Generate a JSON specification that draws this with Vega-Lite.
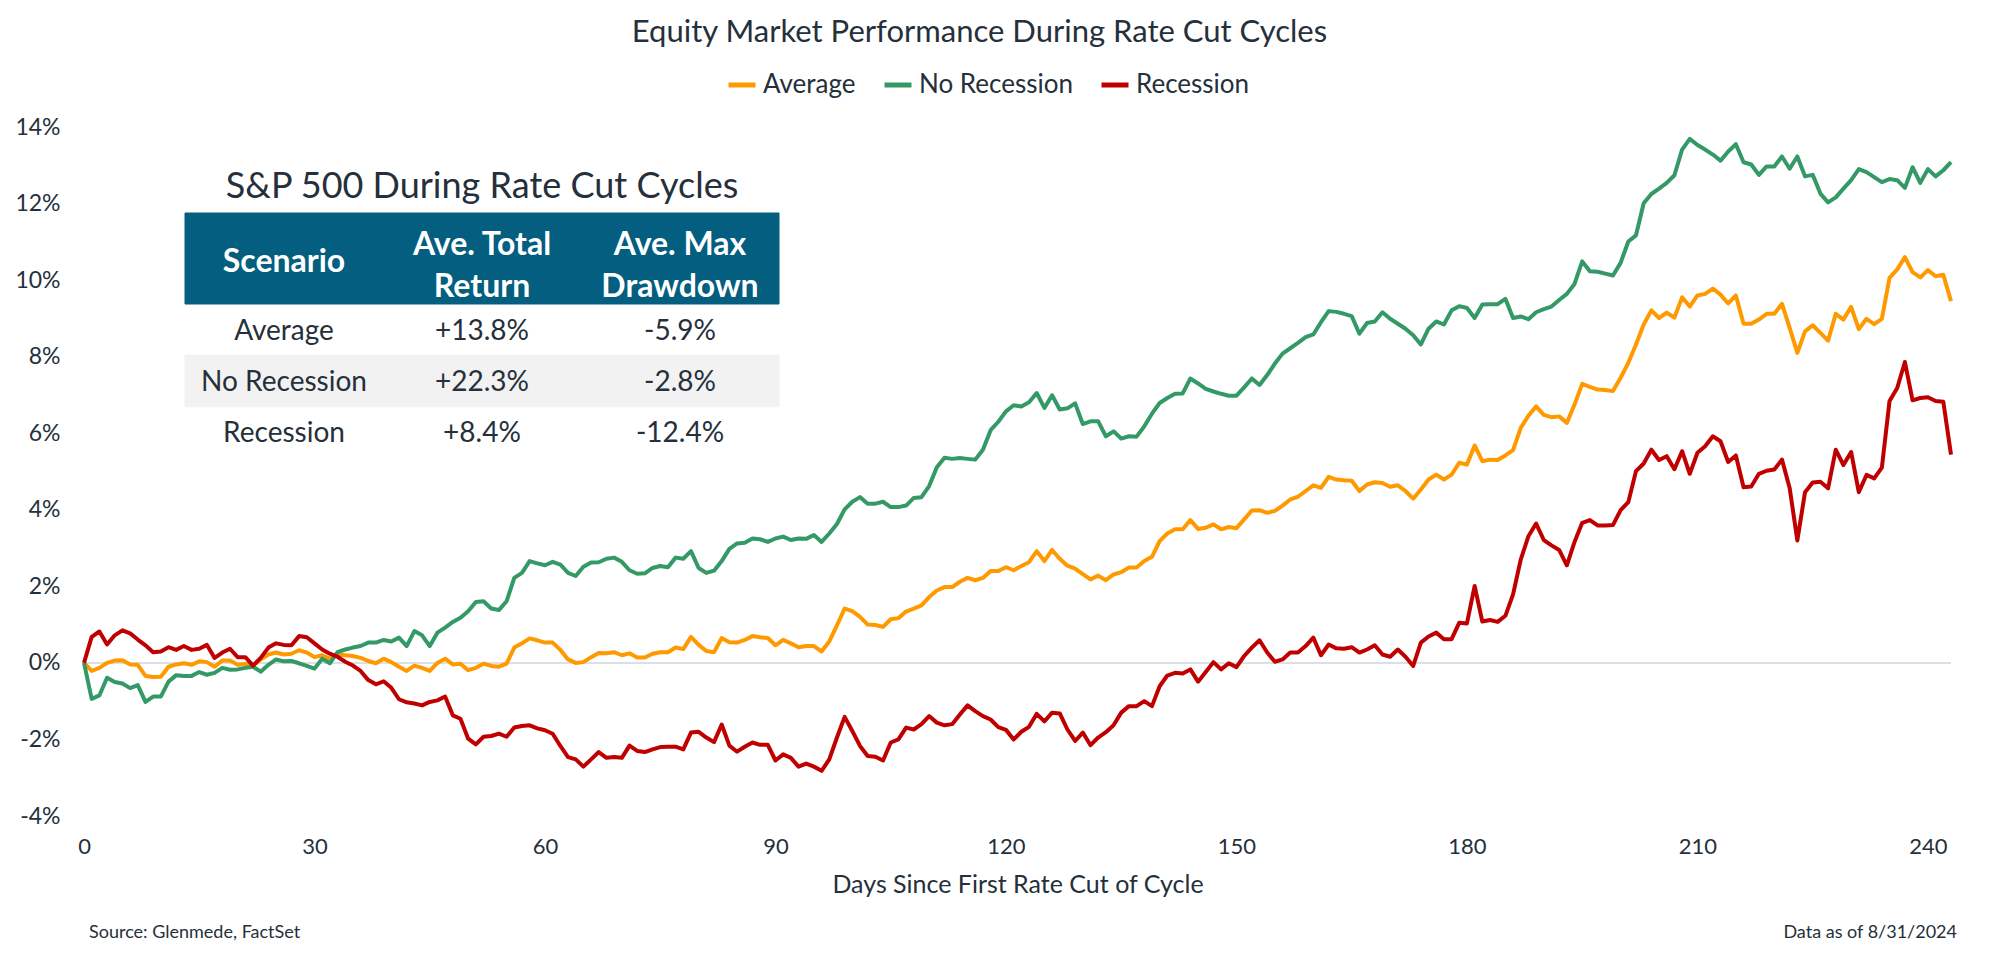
{
  "$schema": "https://vega.github.io/schema/vega-lite/v6.json",
  "width": 1867,
  "height": 689,
  "autosize": {"type": "none"},
  "padding": {"left": 84, "top": 127, "right": 49, "bottom": 142},
  "background": "white",
  "config": {"font": "Lato", "view": {"stroke": null}},
  "title": {"text": "Equity Market Performance During Rate Cut Cycles", "anchor": "middle", "frame": "group", "orient": "top", "offset": 20, "dx": -38, "fontSize": 31, "font": "Lato", "fontWeight": "normal", "color": "#25303b"},
  "datasets": {
    "series": [
      {"day":0,"Average":0,"No Recession":0,"Recession":0},
      {"day":1,"Average":-0.21,"No Recession":-0.94,"Recession":0.68},
      {"day":2,"Average":-0.13,"No Recession":-0.85,"Recession":0.82},
      {"day":3,"Average":0.00,"No Recession":-0.39,"Recession":0.48},
      {"day":4,"Average":0.06,"No Recession":-0.50,"Recession":0.72},
      {"day":5,"Average":0.07,"No Recession":-0.54,"Recession":0.85},
      {"day":6,"Average":-0.04,"No Recession":-0.66,"Recession":0.77},
      {"day":7,"Average":-0.05,"No Recession":-0.58,"Recession":0.61},
      {"day":8,"Average":-0.34,"No Recession":-1.02,"Recession":0.46},
      {"day":9,"Average":-0.37,"No Recession":-0.88,"Recession":0.28},
      {"day":10,"Average":-0.36,"No Recession":-0.88,"Recession":0.30},
      {"day":11,"Average":-0.10,"No Recession":-0.49,"Recession":0.41},
      {"day":12,"Average":-0.04,"No Recession":-0.32,"Recession":0.34},
      {"day":13,"Average":-0.01,"No Recession":-0.34,"Recession":0.44},
      {"day":14,"Average":-0.05,"No Recession":-0.34,"Recession":0.34},
      {"day":15,"Average":0.04,"No Recession":-0.24,"Recession":0.37},
      {"day":16,"Average":0.02,"No Recession":-0.31,"Recession":0.47},
      {"day":17,"Average":-0.10,"No Recession":-0.26,"Recession":0.13},
      {"day":18,"Average":0.06,"No Recession":-0.13,"Recession":0.27},
      {"day":19,"Average":0.06,"No Recession":-0.18,"Recession":0.37},
      {"day":20,"Average":-0.05,"No Recession":-0.17,"Recession":0.15},
      {"day":21,"Average":-0.03,"No Recession":-0.13,"Recession":0.15},
      {"day":22,"Average":-0.07,"No Recession":-0.10,"Recession":-0.07},
      {"day":23,"Average":0.09,"No Recession":-0.23,"Recession":0.13},
      {"day":24,"Average":0.22,"No Recession":-0.05,"Recession":0.40},
      {"day":25,"Average":0.27,"No Recession":0.09,"Recession":0.51},
      {"day":26,"Average":0.22,"No Recession":0.04,"Recession":0.47},
      {"day":27,"Average":0.24,"No Recession":0.05,"Recession":0.46},
      {"day":28,"Average":0.33,"No Recession":-0.01,"Recession":0.70},
      {"day":29,"Average":0.27,"No Recession":-0.08,"Recession":0.67},
      {"day":30,"Average":0.15,"No Recession":-0.15,"Recession":0.51},
      {"day":31,"Average":0.20,"No Recession":0.11,"Recession":0.35},
      {"day":32,"Average":0.11,"No Recession":-0.01,"Recession":0.24},
      {"day":33,"Average":0.22,"No Recession":0.28,"Recession":0.16},
      {"day":34,"Average":0.20,"No Recession":0.35,"Recession":0.03},
      {"day":35,"Average":0.18,"No Recession":0.40,"Recession":-0.07},
      {"day":36,"Average":0.13,"No Recession":0.44,"Recession":-0.21},
      {"day":37,"Average":0.05,"No Recession":0.53,"Recession":-0.45},
      {"day":38,"Average":-0.01,"No Recession":0.53,"Recession":-0.56},
      {"day":39,"Average":0.11,"No Recession":0.60,"Recession":-0.48},
      {"day":40,"Average":0.02,"No Recession":0.56,"Recession":-0.65},
      {"day":41,"Average":-0.10,"No Recession":0.66,"Recession":-0.95},
      {"day":42,"Average":-0.21,"No Recession":0.44,"Recession":-1.03},
      {"day":43,"Average":-0.07,"No Recession":0.83,"Recession":-1.06},
      {"day":44,"Average":-0.13,"No Recession":0.72,"Recession":-1.11},
      {"day":45,"Average":-0.21,"No Recession":0.44,"Recession":-1.02},
      {"day":46,"Average":0.00,"No Recession":0.79,"Recession":-0.98},
      {"day":47,"Average":0.11,"No Recession":0.92,"Recession":-0.88},
      {"day":48,"Average":-0.04,"No Recession":1.07,"Recession":-1.37},
      {"day":49,"Average":-0.02,"No Recession":1.18,"Recession":-1.46},
      {"day":50,"Average":-0.19,"No Recession":1.35,"Recession":-1.98},
      {"day":51,"Average":-0.13,"No Recession":1.59,"Recession":-2.13},
      {"day":52,"Average":-0.02,"No Recession":1.61,"Recession":-1.93},
      {"day":53,"Average":-0.08,"No Recession":1.42,"Recession":-1.91},
      {"day":54,"Average":-0.10,"No Recession":1.38,"Recession":-1.85},
      {"day":55,"Average":-0.02,"No Recession":1.61,"Recession":-1.93},
      {"day":56,"Average":0.40,"No Recession":2.22,"Recession":-1.69},
      {"day":57,"Average":0.51,"No Recession":2.35,"Recession":-1.65},
      {"day":58,"Average":0.64,"No Recession":2.66,"Recession":-1.63},
      {"day":59,"Average":0.59,"No Recession":2.60,"Recession":-1.71},
      {"day":60,"Average":0.53,"No Recession":2.55,"Recession":-1.76},
      {"day":61,"Average":0.53,"No Recession":2.64,"Recession":-1.85},
      {"day":62,"Average":0.34,"No Recession":2.57,"Recession":-2.17},
      {"day":63,"Average":0.09,"No Recession":2.35,"Recession":-2.46},
      {"day":64,"Average":0.00,"No Recession":2.27,"Recession":-2.52},
      {"day":65,"Average":0.02,"No Recession":2.51,"Recession":-2.71},
      {"day":66,"Average":0.15,"No Recession":2.62,"Recession":-2.52},
      {"day":67,"Average":0.26,"No Recession":2.63,"Recession":-2.33},
      {"day":68,"Average":0.25,"No Recession":2.72,"Recession":-2.48},
      {"day":69,"Average":0.28,"No Recession":2.75,"Recession":-2.46},
      {"day":70,"Average":0.20,"No Recession":2.64,"Recession":-2.48},
      {"day":71,"Average":0.25,"No Recession":2.42,"Recession":-2.16},
      {"day":72,"Average":0.14,"No Recession":2.33,"Recession":-2.30},
      {"day":73,"Average":0.14,"No Recession":2.34,"Recession":-2.33},
      {"day":74,"Average":0.24,"No Recession":2.48,"Recession":-2.26},
      {"day":75,"Average":0.28,"No Recession":2.53,"Recession":-2.20},
      {"day":76,"Average":0.28,"No Recession":2.50,"Recession":-2.19},
      {"day":77,"Average":0.40,"No Recession":2.75,"Recession":-2.19},
      {"day":78,"Average":0.36,"No Recession":2.72,"Recession":-2.26},
      {"day":79,"Average":0.68,"No Recession":2.92,"Recession":-1.82},
      {"day":80,"Average":0.47,"No Recession":2.48,"Recession":-1.80},
      {"day":81,"Average":0.31,"No Recession":2.35,"Recession":-1.95},
      {"day":82,"Average":0.28,"No Recession":2.41,"Recession":-2.07},
      {"day":83,"Average":0.65,"No Recession":2.66,"Recession":-1.61},
      {"day":84,"Average":0.54,"No Recession":2.98,"Recession":-2.16},
      {"day":85,"Average":0.53,"No Recession":3.12,"Recession":-2.32},
      {"day":86,"Average":0.60,"No Recession":3.14,"Recession":-2.19},
      {"day":87,"Average":0.70,"No Recession":3.25,"Recession":-2.08},
      {"day":88,"Average":0.67,"No Recession":3.23,"Recession":-2.14},
      {"day":89,"Average":0.65,"No Recession":3.16,"Recession":-2.14},
      {"day":90,"Average":0.46,"No Recession":3.25,"Recession":-2.55},
      {"day":91,"Average":0.60,"No Recession":3.30,"Recession":-2.39},
      {"day":92,"Average":0.51,"No Recession":3.21,"Recession":-2.48},
      {"day":93,"Average":0.41,"No Recession":3.25,"Recession":-2.71},
      {"day":94,"Average":0.44,"No Recession":3.24,"Recession":-2.63},
      {"day":95,"Average":0.44,"No Recession":3.34,"Recession":-2.71},
      {"day":96,"Average":0.30,"No Recession":3.16,"Recession":-2.82},
      {"day":97,"Average":0.56,"No Recession":3.38,"Recession":-2.52},
      {"day":98,"Average":0.98,"No Recession":3.63,"Recession":-1.95},
      {"day":99,"Average":1.42,"No Recession":4.01,"Recession":-1.41},
      {"day":100,"Average":1.35,"No Recession":4.21,"Recession":-1.78},
      {"day":101,"Average":1.20,"No Recession":4.33,"Recession":-2.17},
      {"day":102,"Average":1.00,"No Recession":4.16,"Recession":-2.43},
      {"day":103,"Average":0.99,"No Recession":4.16,"Recession":-2.45},
      {"day":104,"Average":0.94,"No Recession":4.21,"Recession":-2.55},
      {"day":105,"Average":1.14,"No Recession":4.07,"Recession":-2.08},
      {"day":106,"Average":1.17,"No Recession":4.07,"Recession":-2.00},
      {"day":107,"Average":1.34,"No Recession":4.11,"Recession":-1.69},
      {"day":108,"Average":1.42,"No Recession":4.31,"Recession":-1.74},
      {"day":109,"Average":1.50,"No Recession":4.33,"Recession":-1.60},
      {"day":110,"Average":1.72,"No Recession":4.62,"Recession":-1.39},
      {"day":111,"Average":1.89,"No Recession":5.11,"Recession":-1.56},
      {"day":112,"Average":1.98,"No Recession":5.36,"Recession":-1.63},
      {"day":113,"Average":1.98,"No Recession":5.33,"Recession":-1.60},
      {"day":114,"Average":2.12,"No Recession":5.35,"Recession":-1.35},
      {"day":115,"Average":2.22,"No Recession":5.33,"Recession":-1.11},
      {"day":116,"Average":2.16,"No Recession":5.31,"Recession":-1.26},
      {"day":117,"Average":2.22,"No Recession":5.57,"Recession":-1.39},
      {"day":118,"Average":2.40,"No Recession":6.08,"Recession":-1.48},
      {"day":119,"Average":2.40,"No Recession":6.30,"Recession":-1.68},
      {"day":120,"Average":2.50,"No Recession":6.57,"Recession":-1.75},
      {"day":121,"Average":2.42,"No Recession":6.73,"Recession":-2.00},
      {"day":122,"Average":2.53,"No Recession":6.70,"Recession":-1.80},
      {"day":123,"Average":2.63,"No Recession":6.81,"Recession":-1.67},
      {"day":124,"Average":2.92,"No Recession":7.05,"Recession":-1.33},
      {"day":125,"Average":2.66,"No Recession":6.66,"Recession":-1.53},
      {"day":126,"Average":2.95,"No Recession":6.99,"Recession":-1.30},
      {"day":127,"Average":2.72,"No Recession":6.62,"Recession":-1.32},
      {"day":128,"Average":2.54,"No Recession":6.65,"Recession":-1.74},
      {"day":129,"Average":2.46,"No Recession":6.78,"Recession":-2.04},
      {"day":130,"Average":2.32,"No Recession":6.24,"Recession":-1.82},
      {"day":131,"Average":2.18,"No Recession":6.31,"Recession":-2.15},
      {"day":132,"Average":2.28,"No Recession":6.31,"Recession":-1.95},
      {"day":133,"Average":2.16,"No Recession":5.92,"Recession":-1.81},
      {"day":134,"Average":2.31,"No Recession":6.05,"Recession":-1.63},
      {"day":135,"Average":2.37,"No Recession":5.86,"Recession":-1.30},
      {"day":136,"Average":2.49,"No Recession":5.92,"Recession":-1.13},
      {"day":137,"Average":2.49,"No Recession":5.91,"Recession":-1.13},
      {"day":138,"Average":2.66,"No Recession":6.18,"Recession":-1.00},
      {"day":139,"Average":2.77,"No Recession":6.51,"Recession":-1.13},
      {"day":140,"Average":3.18,"No Recession":6.79,"Recession":-0.61},
      {"day":141,"Average":3.38,"No Recession":6.92,"Recession":-0.33},
      {"day":142,"Average":3.49,"No Recession":7.03,"Recession":-0.26},
      {"day":143,"Average":3.49,"No Recession":7.04,"Recession":-0.28},
      {"day":144,"Average":3.73,"No Recession":7.43,"Recession":-0.17},
      {"day":145,"Average":3.50,"No Recession":7.30,"Recession":-0.49},
      {"day":146,"Average":3.53,"No Recession":7.16,"Recession":-0.24},
      {"day":147,"Average":3.62,"No Recession":7.09,"Recession":0.02},
      {"day":148,"Average":3.49,"No Recession":7.03,"Recession":-0.17},
      {"day":149,"Average":3.55,"No Recession":6.98,"Recession":-0.01},
      {"day":150,"Average":3.52,"No Recession":6.98,"Recession":-0.11},
      {"day":151,"Average":3.75,"No Recession":7.20,"Recession":0.18},
      {"day":152,"Average":3.98,"No Recession":7.43,"Recession":0.40},
      {"day":153,"Average":3.99,"No Recession":7.26,"Recession":0.59},
      {"day":154,"Average":3.92,"No Recession":7.52,"Recession":0.27},
      {"day":155,"Average":3.97,"No Recession":7.82,"Recession":0.03},
      {"day":156,"Average":4.11,"No Recession":8.08,"Recession":0.09},
      {"day":157,"Average":4.27,"No Recession":8.22,"Recession":0.27},
      {"day":158,"Average":4.34,"No Recession":8.36,"Recession":0.27},
      {"day":159,"Average":4.49,"No Recession":8.51,"Recession":0.44},
      {"day":160,"Average":4.64,"No Recession":8.58,"Recession":0.66},
      {"day":161,"Average":4.57,"No Recession":8.90,"Recession":0.20},
      {"day":162,"Average":4.86,"No Recession":9.19,"Recession":0.48},
      {"day":163,"Average":4.79,"No Recession":9.17,"Recession":0.38},
      {"day":164,"Average":4.77,"No Recession":9.12,"Recession":0.37},
      {"day":165,"Average":4.76,"No Recession":9.06,"Recession":0.41},
      {"day":166,"Average":4.49,"No Recession":8.60,"Recession":0.27},
      {"day":167,"Average":4.66,"No Recession":8.88,"Recession":0.35},
      {"day":168,"Average":4.72,"No Recession":8.92,"Recession":0.46},
      {"day":169,"Average":4.70,"No Recession":9.16,"Recession":0.22},
      {"day":170,"Average":4.60,"No Recession":8.99,"Recession":0.16},
      {"day":171,"Average":4.64,"No Recession":8.86,"Recession":0.35},
      {"day":172,"Average":4.49,"No Recession":8.73,"Recession":0.16},
      {"day":173,"Average":4.29,"No Recession":8.56,"Recession":-0.08},
      {"day":174,"Average":4.53,"No Recession":8.32,"Recession":0.53},
      {"day":175,"Average":4.79,"No Recession":8.73,"Recession":0.69},
      {"day":176,"Average":4.92,"No Recession":8.92,"Recession":0.79},
      {"day":177,"Average":4.79,"No Recession":8.84,"Recession":0.62},
      {"day":178,"Average":4.92,"No Recession":9.21,"Recession":0.62},
      {"day":179,"Average":5.23,"No Recession":9.32,"Recession":1.05},
      {"day":180,"Average":5.18,"No Recession":9.27,"Recession":1.03},
      {"day":181,"Average":5.68,"No Recession":9.01,"Recession":2.01},
      {"day":182,"Average":5.27,"No Recession":9.36,"Recession":1.08},
      {"day":183,"Average":5.31,"No Recession":9.37,"Recession":1.12},
      {"day":184,"Average":5.30,"No Recession":9.37,"Recession":1.07},
      {"day":185,"Average":5.42,"No Recession":9.51,"Recession":1.23},
      {"day":186,"Average":5.56,"No Recession":9.01,"Recession":1.79},
      {"day":187,"Average":6.14,"No Recession":9.05,"Recession":2.70},
      {"day":188,"Average":6.46,"No Recession":8.98,"Recession":3.31},
      {"day":189,"Average":6.70,"No Recession":9.16,"Recession":3.64},
      {"day":190,"Average":6.48,"No Recession":9.24,"Recession":3.21},
      {"day":191,"Average":6.42,"No Recession":9.31,"Recession":3.07},
      {"day":192,"Average":6.44,"No Recession":9.48,"Recession":2.95},
      {"day":193,"Average":6.27,"No Recession":9.64,"Recession":2.55},
      {"day":194,"Average":6.75,"No Recession":9.90,"Recession":3.16},
      {"day":195,"Average":7.29,"No Recession":10.49,"Recession":3.66},
      {"day":196,"Average":7.21,"No Recession":10.23,"Recession":3.73},
      {"day":197,"Average":7.14,"No Recession":10.22,"Recession":3.59},
      {"day":198,"Average":7.13,"No Recession":10.17,"Recession":3.59},
      {"day":199,"Average":7.10,"No Recession":10.12,"Recession":3.60},
      {"day":200,"Average":7.45,"No Recession":10.45,"Recession":3.99},
      {"day":201,"Average":7.84,"No Recession":11.01,"Recession":4.20},
      {"day":202,"Average":8.32,"No Recession":11.17,"Recession":5.01},
      {"day":203,"Average":8.84,"No Recession":12.01,"Recession":5.21},
      {"day":204,"Average":9.21,"No Recession":12.25,"Recession":5.57},
      {"day":205,"Average":9.01,"No Recession":12.39,"Recession":5.30},
      {"day":206,"Average":9.15,"No Recession":12.54,"Recession":5.40},
      {"day":207,"Average":9.02,"No Recession":12.74,"Recession":5.06},
      {"day":208,"Average":9.55,"No Recession":13.41,"Recession":5.53},
      {"day":209,"Average":9.31,"No Recession":13.69,"Recession":4.94},
      {"day":210,"Average":9.60,"No Recession":13.53,"Recession":5.49},
      {"day":211,"Average":9.64,"No Recession":13.41,"Recession":5.66},
      {"day":212,"Average":9.78,"No Recession":13.28,"Recession":5.92},
      {"day":213,"Average":9.62,"No Recession":13.12,"Recession":5.79},
      {"day":214,"Average":9.39,"No Recession":13.36,"Recession":5.25},
      {"day":215,"Average":9.60,"No Recession":13.55,"Recession":5.42},
      {"day":216,"Average":8.86,"No Recession":13.08,"Recession":4.59},
      {"day":217,"Average":8.86,"No Recession":13.02,"Recession":4.61},
      {"day":218,"Average":8.97,"No Recession":12.75,"Recession":4.94},
      {"day":219,"Average":9.12,"No Recession":12.97,"Recession":5.02},
      {"day":220,"Average":9.12,"No Recession":12.97,"Recession":5.05},
      {"day":221,"Average":9.38,"No Recession":13.23,"Recession":5.31},
      {"day":222,"Average":8.75,"No Recession":12.91,"Recession":4.57},
      {"day":223,"Average":8.10,"No Recession":13.23,"Recession":3.20},
      {"day":224,"Average":8.66,"No Recession":12.71,"Recession":4.46},
      {"day":225,"Average":8.82,"No Recession":12.75,"Recession":4.71},
      {"day":226,"Average":8.62,"No Recession":12.26,"Recession":4.73},
      {"day":227,"Average":8.42,"No Recession":12.03,"Recession":4.56},
      {"day":228,"Average":9.12,"No Recession":12.16,"Recession":5.57},
      {"day":229,"Average":8.97,"No Recession":12.39,"Recession":5.17},
      {"day":230,"Average":9.30,"No Recession":12.61,"Recession":5.51},
      {"day":231,"Average":8.72,"No Recession":12.90,"Recession":4.46},
      {"day":232,"Average":8.99,"No Recession":12.82,"Recession":4.91},
      {"day":233,"Average":8.85,"No Recession":12.69,"Recession":4.82},
      {"day":234,"Average":8.99,"No Recession":12.56,"Recession":5.10},
      {"day":235,"Average":10.06,"No Recession":12.64,"Recession":6.84},
      {"day":236,"Average":10.28,"No Recession":12.61,"Recession":7.18},
      {"day":237,"Average":10.60,"No Recession":12.41,"Recession":7.86},
      {"day":238,"Average":10.21,"No Recession":12.95,"Recession":6.86},
      {"day":239,"Average":10.07,"No Recession":12.54,"Recession":6.92},
      {"day":240,"Average":10.26,"No Recession":12.90,"Recession":6.94},
      {"day":241,"Average":10.10,"No Recession":12.71,"Recession":6.84},
      {"day":242,"Average":10.14,"No Recession":12.87,"Recession":6.82},
      {"day":243,"Average":9.45,"No Recession":13.08,"Recession":5.44}
    ],
    "table": [
      {"part":"header","row":"header","col":"Scenario","text":"Scenario"},
      {"part":"header","row":"header","col":"Ave. Total Return","text":"Ave. Total\nReturn"},
      {"part":"header","row":"header","col":"Ave. Max Drawdown","text":"Ave. Max\nDrawdown"},
      {"part":"body","row":"Average","col":"Scenario","text":"Average"},
      {"part":"body","row":"Average","col":"Ave. Total Return","text":"+13.8%"},
      {"part":"body","row":"Average","col":"Ave. Max Drawdown","text":"-5.9%"},
      {"part":"body","row":"No Recession","col":"Scenario","text":"No Recession"},
      {"part":"body","row":"No Recession","col":"Ave. Total Return","text":"+22.3%"},
      {"part":"body","row":"No Recession","col":"Ave. Max Drawdown","text":"-2.8%"},
      {"part":"body","row":"Recession","col":"Scenario","text":"Recession"},
      {"part":"body","row":"Recession","col":"Ave. Total Return","text":"+8.4%"},
      {"part":"body","row":"Recession","col":"Ave. Max Drawdown","text":"-12.4%"}
    ]
  },
  "layer": [
    {
      "layer": [
        {
          "data": {"values": [{"zero": 0}]},
          "mark": {"type": "rule", "color": "#dbe0e7", "strokeWidth": 2},
          "encoding": {"y": {"field": "zero", "type": "quantitative", "scale": {"domain": [-4, 14], "nice": false, "zero": false}}}
        },
        {
          "data": {"name": "series"},
          "transform": [{"fold": ["Average", "No Recession", "Recession"], "as": ["scenario", "ret"]}],
          "mark": {"type": "line", "strokeWidth": 4, "strokeJoin": "round", "strokeCap": "butt"},
          "encoding": {
            "x": {"field": "day", "type": "quantitative", "scale": {"domain": [0, 243], "nice": false, "zero": false},
              "axis": {"values": [0, 30, 60, 90, 120, 150, 180, 210, 240], "labelFlush": false, "title": "Days Since First Rate Cut of Cycle", "grid": false, "ticks": false, "domain": false, "labelFontSize": 22, "labelFont": "Lato", "labelColor": "#25303b", "labelPadding": 20, "titleFontSize": 25, "titleFont": "Lato", "titleFontWeight": "normal", "titleColor": "#25303b", "titlePadding": 15}},
            "y": {"field": "ret", "type": "quantitative", "scale": {"domain": [-4, 14], "nice": false, "zero": false},
              "axis": {"values": [-4, -2, 0, 2, 4, 6, 8, 10, 12, 14], "labelExpr": "datum.value + '%'", "title": null, "grid": false, "ticks": false, "domain": false, "labelFontSize": 23, "labelFont": "Lato", "labelColor": "#25303b", "labelPadding": 24}},
            "color": {"field": "scenario", "type": "nominal",
              "scale": {"domain": ["Average", "No Recession", "Recession"], "range": ["#FF9900", "#339966", "#C00000"]},
              "legend": {"orient": "none", "legendX": 642, "legendY": -58, "direction": "horizontal", "title": null, "symbolType": "stroke", "symbolStrokeWidth": 5, "symbolSize": 729, "labelFontSize": 26, "labelFont": "Lato", "labelColor": "#25303b", "labelOffset": 5, "columnPadding": 18}}
          }
        }
      ]
    },
    {
      "data": {"values": [{"t": "S&P 500 During Rate Cut Cycles"}]},
      "mark": {"type": "text", "fontSize": 36, "font": "Lato", "color": "#25303b", "baseline": "middle", "align": "center"},
      "encoding": {
        "text": {"field": "t"},
        "x": {"field": "t", "type": "nominal", "scale": {"type": "point", "range": [101, 695], "padding": 0.5}, "axis": null},
        "y": {"field": "t", "type": "nominal", "scale": {"type": "point", "range": [33, 86], "padding": 0.5}, "axis": null}
      }
    },
    {
      "data": {"name": "table"},
      "transform": [{"filter": "datum.part === 'header'"}],
      "mark": {"type": "rect", "fill": "#035E80", "stroke": "#035E80", "strokeWidth": 1},
      "encoding": {
        "x": {"field": "col", "type": "nominal", "sort": null, "scale": {"type": "band", "domain": ["Scenario", "Ave. Total Return", "Ave. Max Drawdown"], "range": [101, 695], "paddingInner": 0, "paddingOuter": 0}, "axis": null},
        "y": {"field": "row", "type": "nominal", "scale": {"type": "band", "domain": ["header"], "range": [86, 177], "paddingInner": 0, "paddingOuter": 0}, "axis": null}
      }
    },
    {
      "data": {"name": "table"},
      "transform": [{"filter": "datum.part === 'header' && datum.col === 'Scenario'"}],
      "mark": {"type": "text", "fontSize": 32, "font": "Lato", "fontWeight": "bold", "color": "#ffffff", "baseline": "middle", "align": "center", "dy": 3},
      "encoding": {
        "text": {"field": "text"},
        "x": {"field": "col", "type": "nominal", "sort": null, "scale": {"type": "band", "domain": ["Scenario", "Ave. Total Return", "Ave. Max Drawdown"], "range": [101, 695], "paddingInner": 0, "paddingOuter": 0}, "axis": null},
        "y": {"field": "row", "type": "nominal", "scale": {"type": "band", "domain": ["header"], "range": [86, 177], "paddingInner": 0, "paddingOuter": 0}, "axis": null}
      }
    },
    {
      "data": {"name": "table"},
      "transform": [{"filter": "datum.part === 'header' && datum.col !== 'Scenario'"}],
      "mark": {"type": "text", "fontSize": 32, "font": "Lato", "fontWeight": "bold", "color": "#ffffff", "baseline": "middle", "align": "center", "lineBreak": "\n", "lineHeight": 42, "dy": -14},
      "encoding": {
        "text": {"field": "text"},
        "x": {"field": "col", "type": "nominal", "sort": null, "scale": {"type": "band", "domain": ["Scenario", "Ave. Total Return", "Ave. Max Drawdown"], "range": [101, 695], "paddingInner": 0, "paddingOuter": 0}, "axis": null},
        "y": {"field": "row", "type": "nominal", "scale": {"type": "band", "domain": ["header"], "range": [86, 177], "paddingInner": 0, "paddingOuter": 0}, "axis": null}
      }
    },
    {
      "data": {"name": "table"},
      "transform": [{"filter": "datum.part === 'body' && datum.row === 'No Recession'"}],
      "mark": {"type": "rect", "fill": "#F2F2F2", "stroke": "#F2F2F2", "strokeWidth": 1},
      "encoding": {
        "x": {"field": "col", "type": "nominal", "sort": null, "scale": {"type": "band", "domain": ["Scenario", "Ave. Total Return", "Ave. Max Drawdown"], "range": [101, 695], "paddingInner": 0, "paddingOuter": 0}, "axis": null},
        "y": {"field": "row", "type": "nominal", "scale": {"type": "band", "domain": ["Average", "No Recession", "Recession"], "range": [177, 331], "paddingInner": 0, "paddingOuter": 0}, "axis": null}
      }
    },
    {
      "data": {"name": "table"},
      "transform": [{"filter": "datum.part === 'body'"}],
      "mark": {"type": "text", "fontSize": 28, "font": "Lato", "color": "#25303b", "baseline": "middle", "align": "center", "dy": 2},
      "encoding": {
        "text": {"field": "text"},
        "x": {"field": "col", "type": "nominal", "sort": null, "scale": {"type": "band", "domain": ["Scenario", "Ave. Total Return", "Ave. Max Drawdown"], "range": [101, 695], "paddingInner": 0, "paddingOuter": 0}, "axis": null},
        "y": {"field": "row", "type": "nominal", "scale": {"type": "band", "domain": ["Average", "No Recession", "Recession"], "range": [177, 331], "paddingInner": 0, "paddingOuter": 0}, "axis": null}
      }
    },
    {
      "data": {"values": [{"note": "Source: Glenmede, FactSet"}]},
      "mark": {"type": "text", "fontSize": 18, "font": "Lato", "color": "#25303b", "baseline": "middle", "align": "left"},
      "encoding": {
        "text": {"field": "note"},
        "x": {"field": "note", "type": "nominal", "scale": {"type": "point", "range": [0, 10], "padding": 0.5}, "axis": null},
        "y": {"field": "note", "type": "nominal", "scale": {"type": "point", "range": [790, 822], "padding": 0.5}, "axis": null}
      }
    },
    {
      "data": {"values": [{"note": "Data as of 8/31/2024"}]},
      "mark": {"type": "text", "fontSize": 18, "font": "Lato", "color": "#25303b", "baseline": "middle", "align": "right"},
      "encoding": {
        "text": {"field": "note"},
        "x": {"field": "note", "type": "nominal", "scale": {"type": "point", "range": [1868, 1878], "padding": 0.5}, "axis": null},
        "y": {"field": "note", "type": "nominal", "scale": {"type": "point", "range": [790, 822], "padding": 0.5}, "axis": null}
      }
    }
  ],
  "resolve": {"scale": {"x": "independent", "y": "independent"}}
}
